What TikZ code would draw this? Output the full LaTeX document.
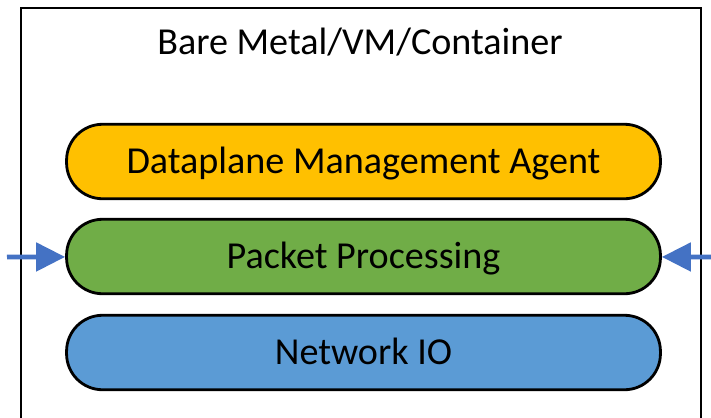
\documentclass[tikz,border=0pt]{standalone}
\usepackage{fontspec}
\setmainfont{Carlito}
\usetikzlibrary{arrows.meta}

\definecolor{agentyellow}{RGB}{255,192,0}
\definecolor{procgreen}{RGB}{112,173,71}
\definecolor{netblue}{RGB}{91,155,213}
\definecolor{arrowblue}{RGB}{68,114,196}

\begin{document}
\begin{tikzpicture}[x=0.02cm, y=-0.02cm,
    label text/.style={font=\fontsize{21.7}{26}\selectfont,
        text height=17.4pt, text depth=3.5pt},
    layer/.style={label text, draw=black, line width=1.6pt, rounded corners=0.72cm,
        minimum width=11.88cm, minimum height=1.49cm},
    flow/.style={draw=arrowblue, line width=2.8pt,
        -{Triangle[length=0.58cm, width=0.56cm, fill=arrowblue]}}]
    \useasboundingbox (0, 0) rectangle (711, 417);
    \clip (0, 0) rectangle (711, 417);

    % === Host box ===
    \draw[line width=1.2pt] (21, 8) rectangle (701, 440);
    \node[label text] (host) at (360, 42) {Bare Metal/VM/Container};

    % === Layers from top to bottom ===
    % Agent
    \node[layer, fill=agentyellow] (agent) at (363.5, 161.5) {Dataplane Management Agent};

    % Packet processing
    \node[layer, fill=procgreen] (proc) at (363.5, 256.5) {Packet Processing};

    % Network IO
    \node[layer, fill=netblue] (netio) at (363.5, 352.5) {Network IO};

    % === Traffic in from both sides ===
    \coordinate (inleft) at (7, 257);
    \coordinate (inright) at (712, 257);
    \draw[flow] (inleft) -- (proc);
    \draw[flow] (inright) -- (proc);
\end{tikzpicture}
\end{document}
